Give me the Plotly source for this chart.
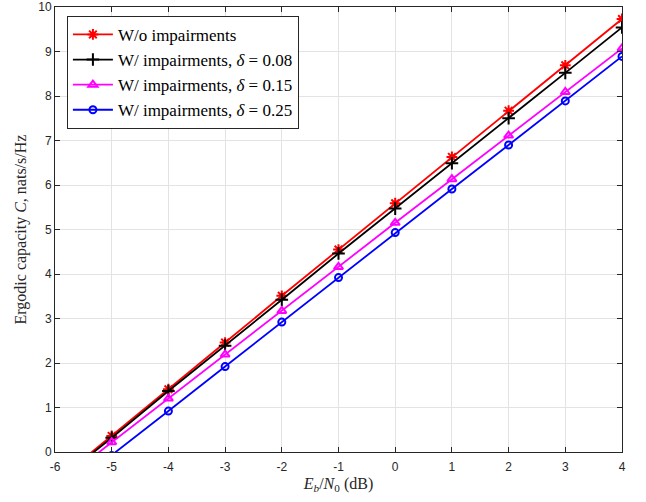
import plotly.graph_objects as go

# SNR grid (dB)
ebn0_db = [-6, -5, -4, -3, -2, -1, 0, 1, 2, 3, 4]

# Ergodic capacity (nats/s/Hz)
cap_ideal = [-0.68, 0.36, 1.41, 2.46, 3.51, 4.55, 5.59, 6.63, 7.67, 8.69, 9.73]
cap_d008 = [-0.70, 0.32, 1.37, 2.39, 3.42, 4.46, 5.47, 6.49, 7.50, 8.52, 9.54]
cap_d015 = [-0.77, 0.22, 1.20, 2.19, 3.17, 4.16, 5.15, 6.13, 7.11, 8.09, 9.07]
cap_d025 = [-1.06, -0.08, 0.92, 1.92, 2.92, 3.92, 4.93, 5.91, 6.90, 7.89, 8.89]

# Tick positions and labels (plain hyphen minus signs)
x_ticks = [-6, -5, -4, -3, -2, -1, 0, 1, 2, 3, 4]
x_ticklabels = ["-6", "-5", "-4", "-3", "-2", "-1", "0", "1", "2", "3", "4"]
y_ticks = [0, 1, 2, 3, 4, 5, 6, 7, 8, 9, 10]
y_ticklabels = ["0", "1", "2", "3", "4", "5", "6", "7", "8", "9", "10"]

names = [
    "W/o impairments",
    "W/ impairments, <i>δ</i> = 0.08",
    "W/ impairments, <i>δ</i> = 0.15",
    "W/ impairments, <i>δ</i> = 0.25",
]
series = [cap_ideal, cap_d008, cap_d015, cap_d025]
colors = ["#ff0000", "#000000", "#ff00ff", "#0000ff"]
symbols = ["asterisk-open", "cross-thin-open", "triangle-up-open", "circle-open"]
sizes = [9, 9, 8, 7]

serif = "Liberation Serif, Times New Roman, serif"

fig = go.Figure()
for name, ys, c, s, sz in zip(names, series, colors, symbols, sizes):
    fig.add_trace(go.Scatter(
        x=ebn0_db, y=ys, name=name, mode="lines+markers",
        line=dict(color=c, width=1.8),
        marker=dict(symbol=s, size=sz, color=c, line=dict(color=c, width=2)),
        cliponaxis=True,
    ))

axis_common = dict(
    showgrid=True, gridcolor="#e3e3e3", gridwidth=1,
    zeroline=False, showline=True, linecolor="#262626", linewidth=1,
    mirror="ticks", ticks="inside", ticklen=5, tickcolor="#262626",
    ticklabeloverflow="allow", automargin=False,
    tickfont=dict(family="Liberation Sans, Arial, sans-serif", size=12, color="#262626"),
    title_font=dict(family=serif, size=16, color="#262626"),
)

fig.update_layout(
    width=646, height=502,
    margin=dict(l=55, r=24, t=7, b=50),
    paper_bgcolor="white", plot_bgcolor="white",
    showlegend=True,
    legend=dict(
        x=0.021, y=0.98, xanchor="left", yanchor="top",
        bgcolor="white", bordercolor="#262626", borderwidth=1,
        font=dict(family=serif, size=17, color="black"),
        tracegroupgap=0, itemwidth=40,
    ),
)
fig.update_xaxes(range=[-6, 4], tickmode="array", tickvals=x_ticks, ticktext=x_ticklabels,
                 ticklabelstandoff=4,
                 title_text="<i>E<sub>b</sub></i>/<i>N</i><sub>0</sub> (dB)",
                 title_standoff=4, **axis_common)
fig.update_yaxes(range=[0, 10], tickmode="array", tickvals=y_ticks, ticktext=y_ticklabels,
                 **axis_common)

# y-axis title placed as a rotated annotation
fig.add_annotation(
    text="Ergodic capacity <i>C</i>, nats/s/Hz",
    xref="paper", yref="paper", x=-0.06, y=0.5,
    xanchor="center", yanchor="middle", textangle=-90, showarrow=False,
    font=dict(family=serif, size=16, color="#262626"),
)

fig.write_html("out.html")
